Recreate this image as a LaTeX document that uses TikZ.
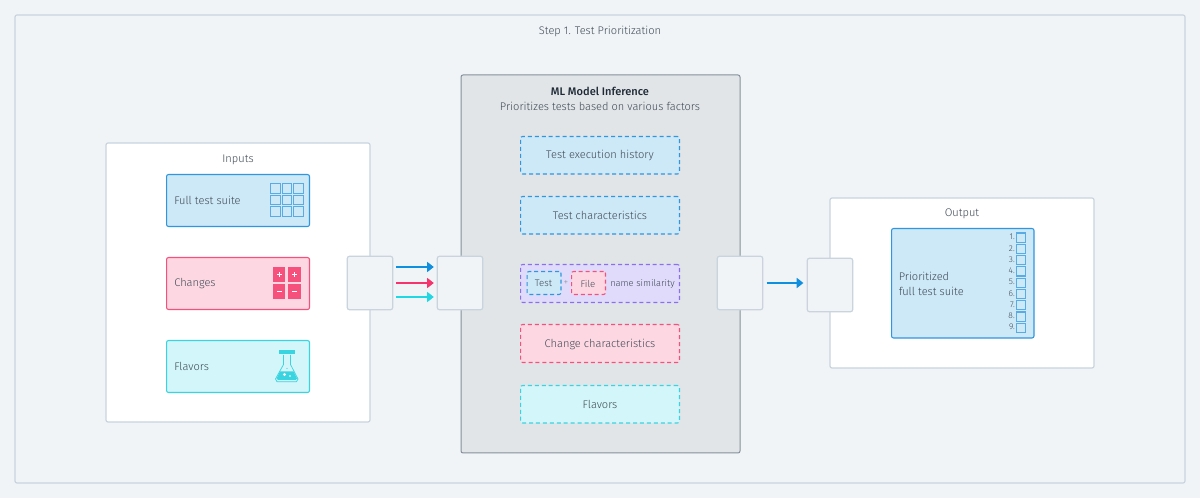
\documentclass[tikz,border=0pt]{standalone}
\usepackage{fontspec}
\setmainfont{Fira Sans Light}[BoldFont={Fira Sans Medium}]
\usetikzlibrary{arrows.meta}
\definecolor{bg}{HTML}{F0F4F7}
\definecolor{edge}{HTML}{C9D4DF}
\definecolor{ink}{HTML}{3F4A55}
\definecolor{dark}{HTML}{1F2A36}
\definecolor{blueS}{HTML}{2F96E0}
\definecolor{blueF}{HTML}{CDE8F7}
\definecolor{pinkS}{HTML}{F5517C}
\definecolor{pinkF}{HTML}{FDD8E2}
\definecolor{cyanS}{HTML}{3AD4E0}
\definecolor{cyanF}{HTML}{D2F6F9}
\definecolor{purS}{HTML}{8A70F0}
\definecolor{purF}{HTML}{E0DBFB}
\definecolor{modelF}{HTML}{E1E5E8}
\definecolor{modelS}{HTML}{86919B}
\definecolor{arrB}{HTML}{0E8FE0}
\definecolor{arrP}{HTML}{F5336C}
\definecolor{arrC}{HTML}{1FD8E4}
\tikzset{
  x=0.75pt,y=-0.75pt,
  txt/.style={font=\fontsize{8.3}{11.3}\selectfont,text=ink,inner sep=0pt},
  small/.style={font=\fontsize{7.2}{9}\selectfont},
  panel/.style={draw=edge,line width=0.9pt,rounded corners=1.5pt,fill=white},
  card/.style={rounded corners=1.5pt,line width=0.8pt},
  dcard/.style={rounded corners=1.5pt,line width=0.8pt,dash pattern=on 3pt off 2.2pt},
  portbox/.style={draw=edge,fill=bg,line width=0.9pt,rounded corners=1.5pt,minimum width=34pt,minimum height=40pt,inner sep=0pt},
  flow/.style={line width=1.6pt,-{Triangle[length=5pt,width=7.5pt]}},
  cell/.style={draw=blueS!80!white,line width=0.9pt,fill=blueF},
}
\newcommand{\boxat}[6]{\node[#1,minimum width=#4*0.75pt-#2*0.75pt-0.4pt,minimum height=#5*0.75pt-#3*0.75pt-0.4pt,inner sep=0pt,anchor=north west] (#6) at (#2,#3) {};}
\begin{document}
\begin{tikzpicture}
\useasboundingbox (0,0) rectangle (1200,498);
\fill[bg] (0,0) rectangle (1200,498);
\draw[panel,fill=bg] (15,15) rectangle (1185,483);
\node[txt] (title) at (600,31) {Step 1. Test Prioritization};

% panels
\draw[panel] (106,143) rectangle (370,422);
\node[txt] (inputs) at (238,159.5) {Inputs};
\draw[panel] (830,198) rectangle (1094,368);
\node[txt] (output) at (962,214) {Output};
\draw[panel,fill=modelF,draw=modelS,line width=0.75pt] (461,75) rectangle (740,453);
\node[txt,text=dark,font=\fontsize{8.3}{12}\selectfont\bfseries] (mltitle) at (600,91) {ML Model Inference};
\node[txt] (mlsub) at (600,106.5) {Prioritizes tests based on various factors};

% input cards
\boxat{card,draw=blueS,fill=blueF}{166}{174}{309.5}{226.5}{full}
\node[txt,anchor=west] (fulllab) at (174,200.5) {Full test suite};
\foreach \c in {0,1,2}\foreach \r in {0,1,2}
  \draw[cell] (270.6+\c*11.5,183.7+\r*11.5) rectangle +(9.6,9.6);

\boxat{card,draw=pinkS,fill=pinkF}{166}{257}{309.5}{309.5}{changes}
\node[txt,anchor=west] (changeslab) at (174,283.5) {Changes};
\foreach \c/\r in {273/267.3,288.2/267.3,273/284.3,288.2/284.3}{
  \fill[pinkS] (\c,\r) rectangle +(12.4,14.6);
}
\foreach \c/\r in {279.2/274.5,294.4/274.5}{
  \draw[white,line width=0.75pt] (\c-2.4,\r) -- (\c+2.4,\r) (\c,\r-2.4) -- (\c,\r+2.4);
}
\foreach \c/\r in {279.2/292,294.4/292}{
  \draw[white,line width=0.75pt] (\c-2.4,\r) -- (\c+2.4,\r);
}

\boxat{card,draw=cyanS,fill=cyanF}{166}{340}{309.5}{392.5}{flavors}
\node[txt,anchor=west] (flavorslab) at (174,366.5) {Flavors};
\fill[cyanS] (279,350) rectangle (295,354.5);
\fill[cyanS] (280,371.5) -- (293.5,371.5) -- (297,378.5) -- (295.5,380) -- (278,380) -- (276.5,378.5) -- cycle;
\draw[cyanS,line width=0.55pt,line join=round] (283.5,355) -- (283.5,364.5) -- (275.5,379) -- (277,381.7) -- (296.5,381.7) -- (298,379) -- (290.5,364.5) -- (290.5,355);
\fill[white] (284.5,374.5) circle (1.6);
\fill[white] (290,376) circle (0.9);
\fill[cyanS] (287,368.5) circle (0.7);

% inference cards
\boxat{dcard,draw=blueS,fill=blueF}{520}{136}{679.5}{174}{hist}
\node[txt] (histlab) at (600,155.5) {Test execution history};
\boxat{dcard,draw=blueS,fill=blueF}{520}{196}{679.5}{234}{chars}
\node[txt] (charslab) at (600,215.5) {Test characteristics};
\boxat{dcard,draw=purS,fill=purF}{520}{264}{679.5}{302.5}{sim}
\boxat{dcard,draw=blueS,fill=blueF}{526.5}{271}{561}{294.5}{simtest}
\node[txt,small] (simtestlab) at (543.5,283.5) {Test};
\node[txt,small,text=ink!60!white] (plus) at (566,283.5) {+};
\boxat{dcard,draw=pinkS,fill=pinkF}{571}{271}{605.5}{294.5}{simfile}
\node[txt,small] (simfilelab) at (588,283.5) {File};
\node[txt,font=\fontsize{7}{9}\selectfont,anchor=west] (simlab) at (610,283.5) {name similarity};
\boxat{dcard,draw=pinkS,fill=pinkF}{520}{324}{679.5}{362.5}{chg}
\node[txt] (chglab) at (600,344) {Change characteristics};
\boxat{dcard,draw=cyanS,fill=cyanF}{520}{385}{679.5}{423}{flv}
\node[txt] (flvlab) at (600,404.5) {Flavors};

% output card
\boxat{card,draw=blueS,fill=blueF}{891}{228}{1034}{338}{prio}
\node[txt,anchor=west,align=left] (priolab) at (898.5,283.5) {Prioritized\\full test suite};
\foreach \n in {1,...,9}{
  \draw[cell] (1016.3,233+\n*11.28-11.28) rectangle +(9.2,9.2);
  \node[txt,font=\fontsize{6.3}{7}\selectfont,anchor=east] (num\n) at (1015,237+\n*11.28-11.28) {\n.};
}

% ports and arrows
\node[portbox] (p1) at (370,283) {};
\node[portbox] (p2) at (460,283) {};
\node[portbox] (p3) at (740,283) {};
\node[portbox] (p4) at (830,285) {};
\draw[flow,arrB] ([xshift=2.2pt,yshift=12pt]p1.east) -- ([xshift=-2.2pt,yshift=12pt]p2.west);
\draw[flow,arrP] ([xshift=2.2pt]p1.east) -- ([xshift=-2.2pt]p2.west);
\draw[flow,arrC] ([xshift=2.2pt,yshift=-10.5pt]p1.east) -- ([xshift=-2.2pt,yshift=-10.5pt]p2.west);
\draw[flow,arrB] ([xshift=2.5pt]p3.east) -- ([xshift=-2.5pt,yshift=1.5pt]p4.west);
\end{tikzpicture}
\end{document}
